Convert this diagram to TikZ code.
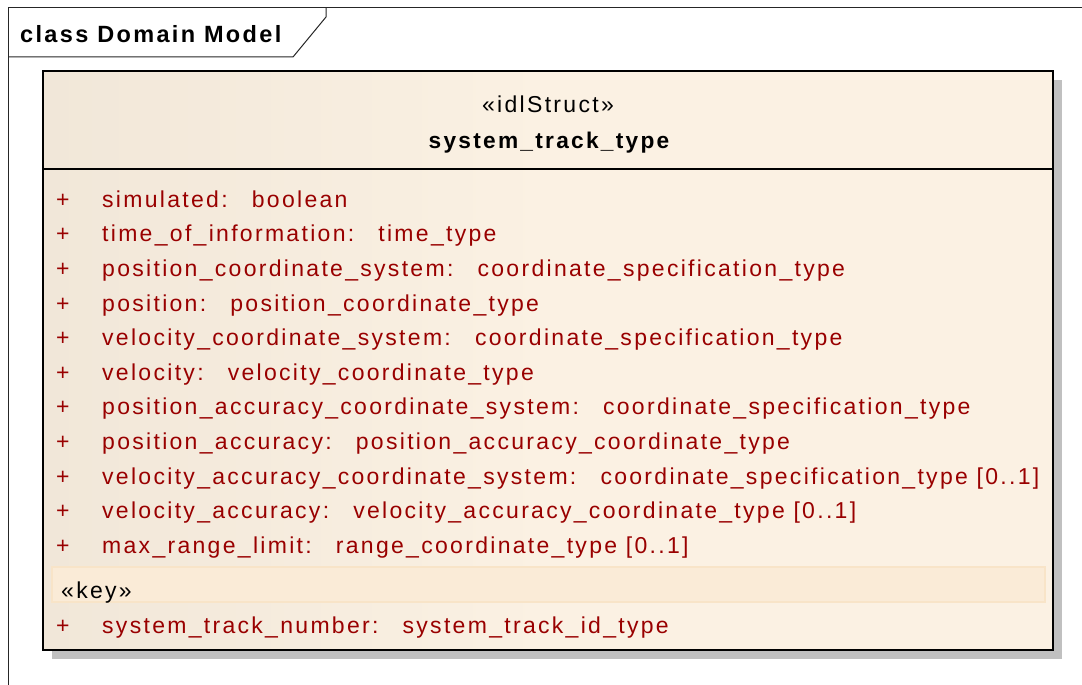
\documentclass[tikz,border=0pt]{standalone}
\usepackage{fontspec}
\usepackage{tikz}
\usetikzlibrary{matrix}
\newfontfamily\umlfont{Liberation Sans}[LetterSpace=10]

\definecolor{attrred}{RGB}{153,0,0}
\definecolor{hdrleft}{RGB}{231,221,206}
\definecolor{hdrright}{RGB}{251,241,227}
\definecolor{keyfill}{RGB}{250,235,215}
\definecolor{keyline}{RGB}{248,228,200}
\definecolor{shadowgray}{RGB}{192,192,192}
\pgfdeclarehorizontalshading{clsshade}{100bp}{color(0bp)=(hdrleft); color(50bp)=(hdrright); color(100bp)=(hdrright)}

\newcommand{\attr}[2]{#1:\hspace{1.05em}#2}

\begin{document}
\begin{tikzpicture}[x=1pt, y=-1pt, font=\umlfont\fontsize{23}{27}\selectfont,
	frameline/.style={draw=black!85, line width=1pt},
	clsline/.style={draw=black, line width=2.5pt}]
\useasboundingbox (0,0) rectangle (1082,685);
% diagram frame with its name tab
\draw[frameline] (8,700) -- (8,8) -- (1100,8);
\draw[frameline] (8,57) -- (293,57) -- (326,17) -- (326,8);
\node[anchor=base west, inner sep=0pt, font=\umlfont\fontsize{23.5}{27}\selectfont\bfseries] (title) at (20,43) {class Domain Model};
% class box
\coordinate (cls nw) at (43,71);
\coordinate (cls se) at (1053,650);
\fill[shadowgray] (52,80) rectangle (1062,659);
\shade[shading=clsshade] (cls nw) rectangle (cls se);
\draw[keyline, fill=keyfill, line width=1.5pt] (52,567) rectangle (1045,602);
\draw[clsline] (cls nw) rectangle (cls se);
\draw[draw=black, line width=2pt] (43,169) -- (1053,169);
\node[anchor=base, inner sep=0pt] (stereo) at (548,113) {«idlStruct»};
\node[anchor=base, inner sep=0pt, font=\umlfont\fontsize{22.7}{26}\selectfont\bfseries] (cname) at (549,148) {system\_track\_type};
\node[anchor=base west, inner sep=0pt] (key) at (61,598) {«key»};
\matrix (attrs) [matrix of nodes, anchor=north west, inner sep=0pt, row sep=13.6pt, column sep=0pt,
	nodes={inner sep=0pt, text height=15pt, text depth=6pt, anchor=base west, text=attrred},
	column 1/.style={nodes={text width=46pt, align=left}}] at (56,192)
{
	+ & \attr{simulated}{boolean} \\
	+ & \attr{time\_of\_information}{time\_type} \\
	+ & \attr{position\_coordinate\_system}{coordinate\_specification\_type} \\
	+ & \attr{position}{position\_coordinate\_type} \\
	+ & \attr{velocity\_coordinate\_system}{coordinate\_specification\_type} \\
	+ & \attr{velocity}{velocity\_coordinate\_type} \\
	+ & \attr{position\_accuracy\_coordinate\_system}{coordinate\_specification\_type} \\
	+ & \attr{position\_accuracy}{position\_accuracy\_coordinate\_type} \\
	+ & \attr{velocity\_accuracy\_coordinate\_system}{coordinate\_specification\_type [0..1]} \\
	+ & \attr{velocity\_accuracy}{velocity\_accuracy\_coordinate\_type [0..1]} \\
	+ & \attr{max\_range\_limit}{range\_coordinate\_type [0..1]} \\[45.4pt]
	+ & \attr{system\_track\_number}{system\_track\_id\_type} \\
};
\end{tikzpicture}
\end{document}
